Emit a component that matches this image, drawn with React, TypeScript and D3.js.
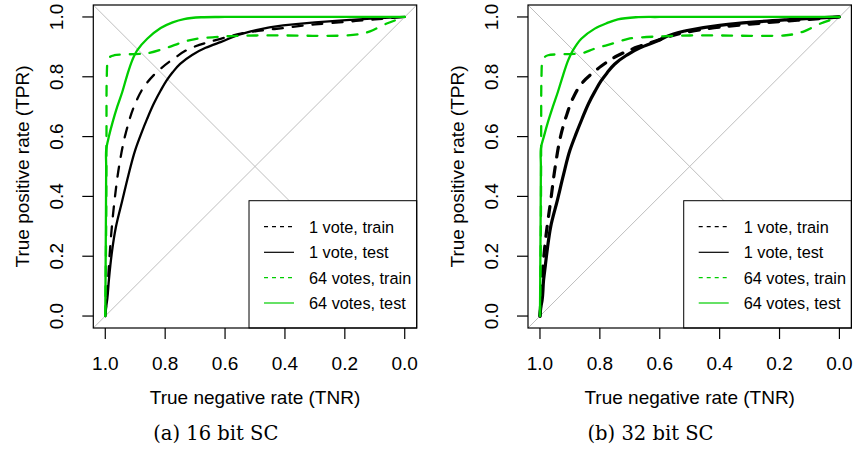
import React from "react";
import * as d3 from "d3";

// ---- data (x = true negative rate, y = true positive rate) ----
const tickValues = [0, 0.2, 0.4, 0.6, 0.8, 1.0];
const captions = ["(a) 16 bit SC", "(b) 32 bit SC"];
const legendLabels = ["1 vote, train", "1 vote, test", "64 votes, train", "64 votes, test"];

// 16 bit SC
const tnrBlackTrain16 = [1, 0.996, 0.992, 0.988, 0.98, 0.969, 0.954, 0.932, 0.9, 0.871, 0.821, 0.771, 0.704, 0.615, 0.514, 0.406, 0.3, 0.183, 0.1, 0];
const tprBlackTrain16 = [0, 0.05, 0.1, 0.165, 0.276, 0.387, 0.5, 0.61, 0.71, 0.766, 0.822, 0.861, 0.9, 0.927, 0.95, 0.963, 0.975, 0.985, 0.992, 1];
const tnrBlackTest16 = [1, 0.997, 0.993, 0.988, 0.983, 0.977, 0.965, 0.943, 0.923, 0.9, 0.88, 0.86, 0.837, 0.815, 0.795, 0.775, 0.75, 0.71, 0.665, 0.615, 0.514, 0.406, 0.3, 0.183, 0.1, 0];
const tprBlackTest16 = [0, 0.03, 0.06, 0.12, 0.17, 0.22, 0.295, 0.387, 0.47, 0.555, 0.61, 0.66, 0.712, 0.754, 0.788, 0.815, 0.843, 0.873, 0.897, 0.916, 0.952, 0.972, 0.982, 0.99, 0.995, 1];
const tnrGreenTrain16 = [1, 0.997, 0.996, 0.995, 0.992, 0.985, 0.97, 0.9, 0.862, 0.8, 0.74, 0.7, 0.6, 0.5, 0.4, 0.3, 0.2, 0.15, 0.116, 0.06, 0];
const tprGreenTrain16 = [0, 0.3, 0.6, 0.8, 0.85, 0.866, 0.872, 0.876, 0.878, 0.895, 0.916, 0.926, 0.935, 0.938, 0.938, 0.937, 0.938, 0.943, 0.952, 0.978, 1];
const tnrGreenTest16 = [1, 0.998, 0.997, 0.997, 0.988, 0.975, 0.96, 0.943, 0.927, 0.91, 0.893, 0.86, 0.815, 0.775, 0.737, 0.68, 0.6, 0];
const tprGreenTest16 = [0, 0.3, 0.5, 0.555, 0.6, 0.65, 0.7, 0.75, 0.805, 0.855, 0.889, 0.927, 0.963, 0.982, 0.993, 0.999, 1, 1];

// 32 bit SC
const tnrBlackTrain32 = [1, 0.997, 0.994, 0.99, 0.979, 0.964, 0.949, 0.929, 0.91, 0.89, 0.856, 0.82, 0.795, 0.74, 0.673, 0.606, 0.517, 0.4, 0.3, 0.183, 0.1, 0];
const tprBlackTrain32 = [0, 0.05, 0.1, 0.165, 0.276, 0.387, 0.5, 0.61, 0.675, 0.728, 0.783, 0.816, 0.836, 0.871, 0.9, 0.922, 0.948, 0.966, 0.976, 0.986, 0.992, 1];
const tnrBlackTest32 = [1, 0.997, 0.993, 0.988, 0.982, 0.976, 0.964, 0.942, 0.922, 0.9, 0.88, 0.86, 0.838, 0.816, 0.796, 0.776, 0.751, 0.711, 0.666, 0.617, 0.517, 0.4, 0.3, 0.183, 0.1, 0];
const tprBlackTest32 = [0, 0.03, 0.053, 0.12, 0.17, 0.22, 0.3, 0.387, 0.47, 0.554, 0.608, 0.658, 0.71, 0.752, 0.786, 0.813, 0.842, 0.872, 0.897, 0.916, 0.953, 0.972, 0.982, 0.99, 0.995, 1];
const tnrGreenTrain32 = [1, 0.997, 0.996, 0.995, 0.992, 0.984, 0.973, 0.9, 0.862, 0.817, 0.74, 0.706, 0.6, 0.5, 0.4, 0.3, 0.185, 0.15, 0.118, 0.063, 0];
const tprGreenTrain32 = [0, 0.3, 0.6, 0.8, 0.85, 0.866, 0.872, 0.876, 0.878, 0.894, 0.916, 0.927, 0.935, 0.938, 0.938, 0.937, 0.938, 0.943, 0.952, 0.978, 1];
const tnrGreenTest32 = [1, 0.998, 0.997, 0.997, 0.987, 0.973, 0.957, 0.94, 0.923, 0.906, 0.89, 0.862, 0.817, 0.775, 0.74, 0.68, 0.6, 0];
const tprGreenTest32 = [0, 0.3, 0.5, 0.56, 0.6, 0.65, 0.7, 0.75, 0.805, 0.855, 0.888, 0.927, 0.961, 0.98, 0.992, 0.999, 1, 1];

const GREEN = "#00CD00";

type Series = { tnr: number[]; tpr: number[]; color: string; dashed: boolean; width: number; monotone: boolean };

const panels: { offset: number; caption: string; series: Series[] }[] = [
  {
    offset: 0,
    caption: captions[0],
    series: [
      { tnr: tnrBlackTrain16, tpr: tprBlackTrain16, color: "#000", dashed: true, width: 2.3, monotone: true },
      { tnr: tnrBlackTest16, tpr: tprBlackTest16, color: "#000", dashed: false, width: 2.3, monotone: true },
      { tnr: tnrGreenTrain16, tpr: tprGreenTrain16, color: GREEN, dashed: true, width: 2.3, monotone: false },
      { tnr: tnrGreenTest16, tpr: tprGreenTest16, color: GREEN, dashed: false, width: 2.3, monotone: false },
    ],
  },
  {
    offset: 434.7,
    caption: captions[1],
    series: [
      { tnr: tnrBlackTrain32, tpr: tprBlackTrain32, color: "#000", dashed: true, width: 3.2, monotone: true },
      { tnr: tnrBlackTest32, tpr: tprBlackTest32, color: "#000", dashed: false, width: 3.2, monotone: true },
      { tnr: tnrGreenTrain32, tpr: tprGreenTrain32, color: GREEN, dashed: true, width: 2.3, monotone: false },
      { tnr: tnrGreenTest32, tpr: tprGreenTest32, color: GREEN, dashed: false, width: 2.3, monotone: false },
    ],
  },
];

const legendColors = ["#000", "#000", GREEN, GREEN];
const legendDashed = [true, false, true, false];

const SANS = "'Liberation Sans', Arial, Helvetica, sans-serif";
const SERIF = "'DejaVu Serif', 'Liberation Serif', serif";

function Panel({ offset, caption, series }: { offset: number; caption: string; series: Series[] }) {
  const left = 93.3 + offset;
  const right = 416.7 + offset;
  const top = 5;
  const bottom = 328;
  const x = d3.scaleLinear().domain([1.04, -0.04]).range([left, right]);
  const y = d3.scaleLinear().domain([-0.04, 1.04]).range([bottom, top]);
  const lineCR = d3
    .line<[number, number]>()
    .x((d) => x(d[0]))
    .y((d) => y(d[1]))
    .curve(d3.curveCatmullRom.alpha(0.5));
  const lineMono = d3
    .line<[number, number]>()
    .x((d) => x(d[0]))
    .y((d) => y(d[1]))
    .curve(d3.curveMonotoneY);

  const legL = x(0.52);
  const rowY = [226.7, 252.3, 277.7, 303];
  const plotMidX = (left + right) / 2;
  const plotMidY = (y(0) + y(1)) / 2;

  return (
    <g>
      {/* diagonals */}
      <line x1={left} y1={bottom} x2={right} y2={top} stroke="#BEBEBE" strokeWidth={1} />
      <line x1={left} y1={top} x2={right} y2={bottom} stroke="#BEBEBE" strokeWidth={1} />
      {/* curves */}
      {series.map((s, i) => {
        const pts = s.tnr.map((v, j) => [v, s.tpr[j]] as [number, number]);
        const gen = s.monotone ? lineMono : lineCR;
        return (
          <path
            key={i}
            d={gen(pts) || ""}
            fill="none"
            stroke={s.color}
            strokeWidth={s.width}
            strokeDasharray={s.dashed ? "10 10" : undefined}
            strokeLinecap="round"
            strokeLinejoin="round"
          />
        );
      })}
      {/* legend */}
      <rect x={legL} y={200.7} width={right - legL} height={bottom - 200.7} fill="#fff" stroke="#000" strokeWidth={1} />
      {legendLabels.map((lab, i) => (
        <g key={i}>
          <line
            x1={legL + 15}
            x2={legL + 45}
            y1={rowY[i]}
            y2={rowY[i]}
            stroke={legendColors[i]}
            strokeWidth={1.2}
            strokeDasharray={legendDashed[i] ? "4 4" : undefined}
          />
          <text x={legL + 60} y={rowY[i]} dominantBaseline="central" fontFamily={SANS} fontSize={16.3} fill="#000">
            {lab}
          </text>
        </g>
      ))}
      {/* box */}
      <rect x={left} y={top} width={right - left} height={bottom - top} fill="none" stroke="#000" strokeWidth={1.2} />
      {/* x axis */}
      {tickValues.map((t) => (
        <g key={"x" + t}>
          <line x1={x(t)} x2={x(t)} y1={bottom} y2={bottom + 11} stroke="#000" strokeWidth={1.2} />
          <text x={x(t)} y={370} textAnchor="middle" fontFamily={SANS} fontSize={19} fill="#000">
            {t.toFixed(1)}
          </text>
        </g>
      ))}
      {/* y axis */}
      {tickValues.map((t) => (
        <g key={"y" + t}>
          <line x1={left - 11} x2={left} y1={y(t)} y2={y(t)} stroke="#000" strokeWidth={1.2} />
          <text
            transform={`translate(${left - 30},${y(t)}) rotate(-90)`}
            textAnchor="middle"
            fontFamily={SANS}
            fontSize={19}
            fill="#000"
          >
            {t.toFixed(1)}
          </text>
        </g>
      ))}
      <text x={plotMidX} y={404} textAnchor="middle" fontFamily={SANS} fontSize={19} fill="#000">
        True negative rate (TNR)
      </text>
      <text
        transform={`translate(${left - 64.5},${plotMidY}) rotate(-90)`}
        textAnchor="middle"
        fontFamily={SANS}
        fontSize={19}
        fill="#000"
      >
        True positive rate (TPR)
      </text>
      <text x={215.8 + offset} y={440} textAnchor="middle" fontFamily={SERIF} fontSize={19.5} fill="#000">
        {caption}
      </text>
    </g>
  );
}

export default function App() {
  return (
    <svg
      width={854}
      height={450}
      viewBox="0 0 854 450"
      style={{ position: "absolute", left: 0, top: 0, background: "#fff" }}
    >
      <rect x={0} y={0} width={854} height={450} fill="#fff" />
      {panels.map((p, i) => (
        <Panel key={i} offset={p.offset} caption={p.caption} series={p.series} />
      ))}
    </svg>
  );
}
